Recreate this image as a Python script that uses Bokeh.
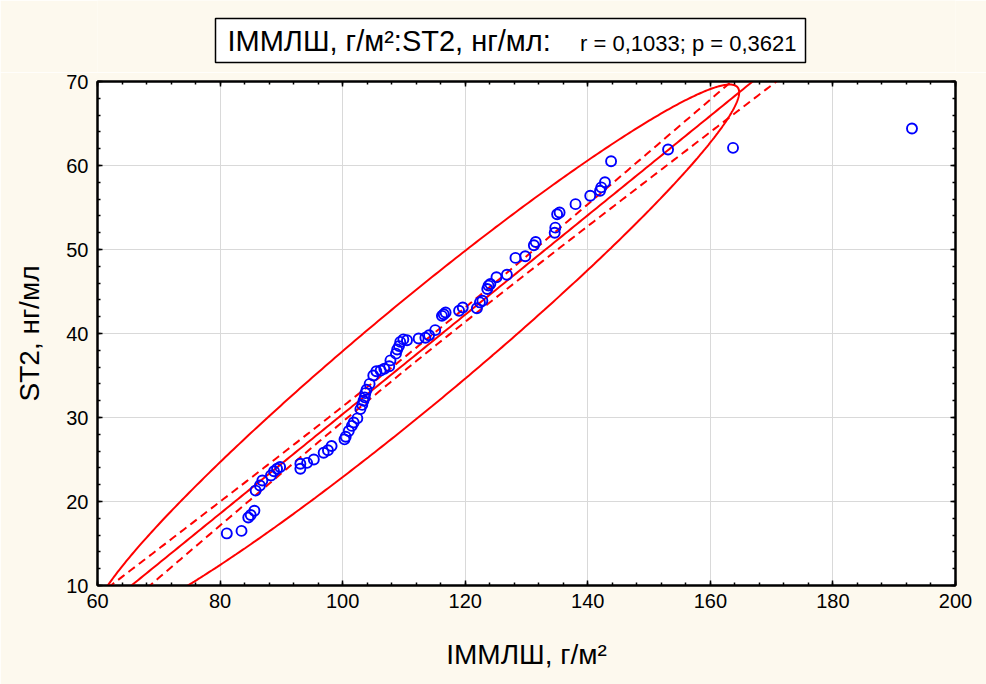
import numpy as np
from bokeh.plotting import figure
from bokeh.models import Range1d, LinearAxis, SingleIntervalTicker, CustomJSTickFormatter
from bokeh.layouts import column
from bokeh.embed import file_html
from bokeh.resources import INLINE
from bokeh.core.properties import value

# ---- data ----
imm_x = [81.1, 83.5, 84.6, 85.0, 85.6, 85.8, 86.5, 86.9, 88.3, 88.8, 89.3, 89.8,
         93.1, 93.1, 94.2, 95.3, 96.9, 97.6, 98.2, 100.3, 100.5, 101.0, 101.5,
         101.8, 102.4, 102.9, 103.2, 103.4, 103.6, 103.7, 103.9, 104.4, 105.0,
         105.5, 106.2, 106.8, 107.6, 107.8, 108.7, 108.9, 109.2, 109.4, 109.9,
         110.5, 112.4, 113.5, 114.1, 115.1, 116.2, 116.5, 116.8, 119.0, 119.6,
         121.9, 122.4, 122.8, 123.6, 123.8, 124.1, 125.1, 126.8, 128.2, 129.8,
         131.2, 131.5, 134.6, 134.7, 135.0, 135.4, 138.0, 140.4, 142.0, 142.2,
         142.8, 143.8, 153.1, 163.7, 192.9]
st2_y = [16.2, 16.5, 18.1, 18.4, 18.9, 21.3, 21.9, 22.5, 23.1, 23.6, 23.9, 24.1,
         24.5, 23.9, 24.6, 25.0, 25.8, 26.1, 26.6, 27.4, 27.7, 28.4, 29.0,
         29.4, 29.9, 31.0, 31.5, 32.0, 32.4, 32.9, 33.3, 34.0, 35.0,
         35.5, 35.6, 35.8, 36.1, 36.8, 37.6, 38.1, 38.5, 39.0, 39.3,
         39.2, 39.4, 39.5, 39.8, 40.4, 42.1, 42.3, 42.5, 42.7, 43.1,
         43.0, 43.7, 43.9, 45.3, 45.7, 45.9, 46.7, 47.0, 49.0, 49.2,
         50.5, 50.9, 52.0, 52.6, 54.2, 54.4, 55.4, 56.4, 57.0, 57.4,
         58.0, 60.5, 61.9, 62.1, 64.4]

x_range_vals = [60, 200]
y_range_vals = [10, 70]
x_tick_step = 20
y_tick_step = 10

title_main = "ІММЛШ, г/м²:ST2, нг/мл:"
title_stats = "r = 0,1033; p = 0,3621"
x_label = "ІММЛШ, г/м²"
y_label = "ST2, нг/мл"

# fit parameters
reg_intercept = -28.8
reg_slope = 0.592
ell_cx = 112.0      # ellipse centre (x)
ell_A = 52.7        # half x-extent
ell_H = 7.7         # half vertical width at the centre
band_h0 = 0.8
band_g = 0.0367

CREAM = "#fdf9ee"
RED = "#ff0000"
BLUE = "#0000ff"
FONT = "Liberation Sans"

# ---- title strip (x in page pixels) ----
t = figure(width=986, height=72, x_range=Range1d(97, 955), y_range=Range1d(72, 0),
           output_backend="svg", toolbar_location=None,
           x_axis_location=None, y_axis_location=None,
           min_border_left=97, min_border_right=31, min_border_top=0,
           min_border_bottom=0)
t.outline_line_color = None
t.background_fill_color = CREAM
t.border_fill_color = CREAM
t.grid.visible = False
t.quad(left=[215], right=[805], top=[18], bottom=[62], fill_color="white",
       line_color="black", line_width=1.5)
t.text(x=[227], y=[40], text=[title_main], text_font=value(FONT),
       text_font_size="29px", text_baseline="middle", text_align="left",
       text_color="black")
t.text(x=[796], y=[43], text=[title_stats], text_font=value(FONT),
       text_font_size="22px", text_baseline="middle", text_align="right",
       text_color="black")

# ---- main chart ----
p = figure(width=986, height=612,
           x_range=Range1d(*x_range_vals), y_range=Range1d(*y_range_vals),
           output_backend="svg", toolbar_location=None,
           min_border_left=97, min_border_right=31, min_border_top=9,
           min_border_bottom=99)
p.background_fill_color = "white"
p.border_fill_color = CREAM
p.outline_line_color = "black"
p.outline_line_width = 2

xt = SingleIntervalTicker(interval=x_tick_step, num_minor_ticks=5)
yt = SingleIntervalTicker(interval=y_tick_step, num_minor_ticks=5)
p.xaxis.ticker = xt
p.yaxis.ticker = yt
p.xgrid.ticker = xt
p.ygrid.ticker = yt
p.grid.grid_line_color = "#d9d9d9"
p.grid.grid_line_width = 1

for ax in (p.xaxis[0], p.yaxis[0]):
    ax.axis_line_color = "black"
    ax.axis_line_width = 2
    ax.major_tick_in = 5
    ax.major_tick_out = 0
    ax.minor_tick_in = 3
    ax.minor_tick_out = 0
    ax.major_tick_line_color = "black"
    ax.minor_tick_line_color = "black"
    ax.major_tick_line_width = 1.5
    ax.minor_tick_line_width = 1.5
    ax.major_label_text_font = FONT
    ax.major_label_text_font_size = "20px"
    ax.major_label_text_color = "black"
    ax.axis_label_text_font = FONT
    ax.axis_label_text_font_size = "28px"
    ax.axis_label_text_font_style = "normal"
    ax.axis_label_text_color = "black"

p.xaxis.axis_label = x_label
p.yaxis.axis_label = y_label
p.xaxis.major_label_standoff = 8
p.yaxis.major_label_standoff = 9
p.xaxis.axis_label_standoff = 28
p.yaxis.axis_label_standoff = 18

blank = CustomJSTickFormatter(code="return '';")
for loc in ("above", "right"):
    ax = LinearAxis(ticker=xt if loc == "above" else yt, formatter=blank)
    ax.major_label_text_font_size = "6px"
    ax.major_label_standoff = 0
    ax.axis_line_color = "black"
    ax.axis_line_width = 2
    ax.major_tick_in = 5
    ax.major_tick_out = 0
    ax.minor_tick_in = 3
    ax.minor_tick_out = 0
    ax.major_tick_line_width = 1.5
    ax.minor_tick_line_width = 1.5
    p.add_layout(ax, loc)

# regression line and confidence bands
xx = np.linspace(x_range_vals[0], x_range_vals[1], 300)
yy = reg_intercept + reg_slope * xx
hh = np.sqrt(band_h0 ** 2 + (band_g * (xx - ell_cx)) ** 2)
p.line(xx, yy, line_color=RED, line_width=2)
p.line(xx, yy + hh, line_color=RED, line_width=2, line_dash="8 5")
p.line(xx, yy - hh, line_color=RED, line_width=2, line_dash="8 5")

# ellipse (centre on the regression line)
ell_cy = reg_intercept + reg_slope * ell_cx
tt = np.linspace(0, 2 * np.pi, 600)
ex = ell_cx + ell_A * np.cos(tt)
ey = ell_cy + reg_slope * ell_A * np.cos(tt) + ell_H * np.sin(tt)
p.line(ex, ey, line_color=RED, line_width=2)

p.scatter(imm_x, st2_y, marker="circle", size=10, fill_color=None,
          line_color=BLUE, line_width=1.9)

layout = column(t, p)
open("out.html", "w").write(file_html(layout, INLINE))
